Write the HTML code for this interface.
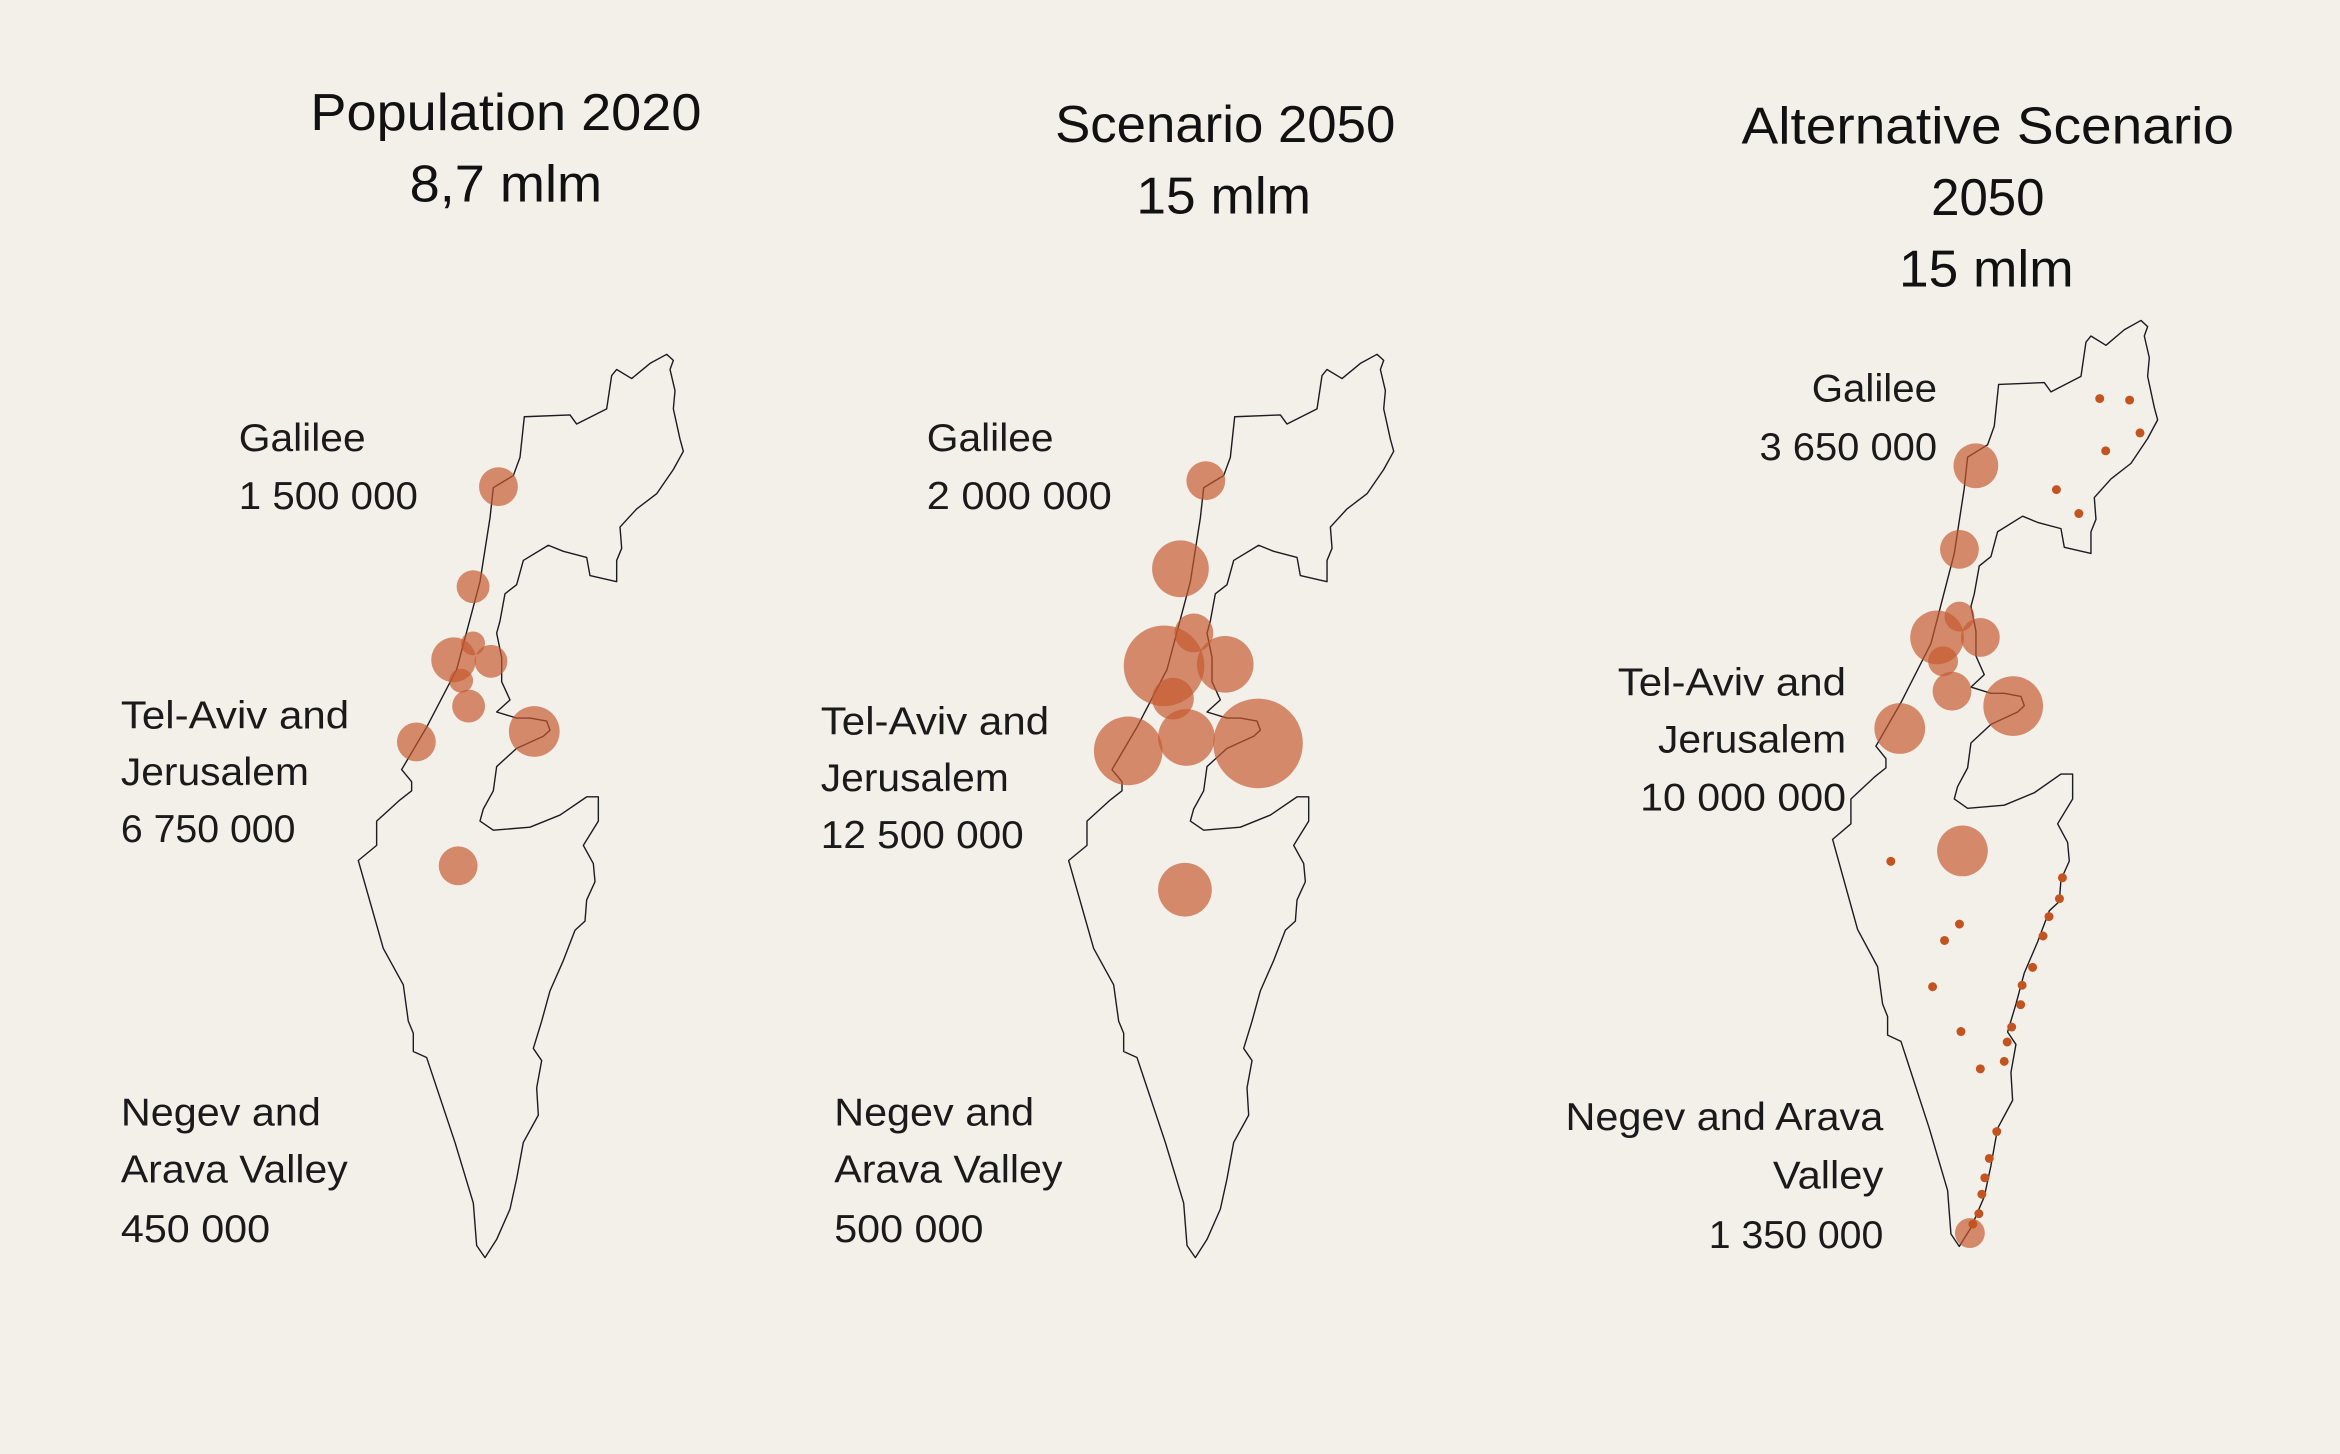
<!DOCTYPE html>
<html><head><meta charset="utf-8"><style>
html,body{margin:0;padding:0;background:#f3efe9;}
svg{display:block}
text{font-family:"Liberation Sans",sans-serif;fill:#111;}
.t{font-size:35px}
.l{font-size:26px;fill:#1a1a1a}
.c{fill:rgba(196,88,46,0.68)}
.d{fill:#c4541f}
</style></head><body>
<svg width="2340" height="1454" viewBox="0 0 1568 974" preserveAspectRatio="none" xmlns="http://www.w3.org/2000/svg">
<rect width="1568" height="974" fill="#f3efe9"/>
<defs>
<path id="isr" fill="none" stroke="#1b1b22" stroke-width="1.4" vector-effect="non-scaling-stroke" stroke-linejoin="round" d="M583,143 L720,140 L740,155 L830,130 L845,75 L860,65 L905,80 L960,55 L1010,40 L1030,50 L1020,65 L1035,100 L1030,130 L1050,180 L1060,200 L1030,230 L980,270 L920,295 L870,325 L875,360 L860,380 L860,415 L780,405 L770,375 L700,365 L655,355 L580,380 L560,420 L525,435 L510,480 L500,500 L515,540 L515,580 L540,610 L500,630 L560,640 L600,640 L650,645 L660,660 L640,670 L560,690 L500,720 L490,760 L460,790 L450,810 L490,825 L600,820 L690,800 L770,770 L805,770 L805,810 L760,850 L790,880 L795,910 L770,940 L765,975 L735,990 L700,1040 L660,1090 L635,1140 L610,1185 L635,1205 L620,1250 L625,1295 L580,1340 L560,1400 L540,1450 L500,1500 L465,1530 L440,1510 L430,1440 L375,1340 L290,1200 L250,1190 L250,1160 L235,1140 L220,1080 L160,1020 L85,875 L140,850 L140,810 L210,775 L245,760 L245,745 L215,725 L290,655 L380,560 L450,415 L480,310 L490,260 L520,250 L550,240 L570,210 Z"/>
</defs>
<use href="#isr" transform="translate(221.1,221.1) scale(0.2234,0.4061)"/>
<use href="#isr" transform="translate(697.1,221.1) scale(0.2234,0.4061)"/>
<use href="#isr" transform="translate(1209,198) scale(0.2234,0.4163)"/>

<!-- titles -->
<text class="t" x="339" y="87" text-anchor="middle" textLength="262" lengthAdjust="spacingAndGlyphs">Population 2020</text>
<text class="t" x="339" y="135" text-anchor="middle" textLength="129" lengthAdjust="spacingAndGlyphs">8,7 mlm</text>
<text class="t" x="821" y="95" text-anchor="middle" textLength="228" lengthAdjust="spacingAndGlyphs">Scenario 2050</text>
<text class="t" x="820" y="143" text-anchor="middle" textLength="117" lengthAdjust="spacingAndGlyphs">15 mlm</text>
<text class="t" x="1332" y="96" text-anchor="middle" textLength="330" lengthAdjust="spacingAndGlyphs">Alternative Scenario</text>
<text class="t" x="1332" y="144" text-anchor="middle" textLength="76" lengthAdjust="spacingAndGlyphs">2050</text>
<text class="t" x="1331" y="192" text-anchor="middle" textLength="117" lengthAdjust="spacingAndGlyphs">15 mlm</text>

<!-- map1 labels -->
<text class="l" x="160" y="302" textLength="85" lengthAdjust="spacingAndGlyphs">Galilee</text>
<text class="l" x="160" y="341" textLength="120" lengthAdjust="spacingAndGlyphs">1 500 000</text>
<text class="l" x="81" y="488" textLength="153" lengthAdjust="spacingAndGlyphs">Tel-Aviv and</text>
<text class="l" x="81" y="526" textLength="126" lengthAdjust="spacingAndGlyphs">Jerusalem</text>
<text class="l" x="81" y="564" textLength="117" lengthAdjust="spacingAndGlyphs">6 750 000</text>
<text class="l" x="81" y="754" textLength="134" lengthAdjust="spacingAndGlyphs">Negev and</text>
<text class="l" x="81" y="792" textLength="152" lengthAdjust="spacingAndGlyphs">Arava Valley</text>
<text class="l" x="81" y="832" textLength="100" lengthAdjust="spacingAndGlyphs">450 000</text>
<!-- map2 labels -->
<text class="l" x="621" y="302" textLength="85" lengthAdjust="spacingAndGlyphs">Galilee</text>
<text class="l" x="621" y="341" textLength="124" lengthAdjust="spacingAndGlyphs">2 000 000</text>
<text class="l" x="550" y="492" textLength="153" lengthAdjust="spacingAndGlyphs">Tel-Aviv and</text>
<text class="l" x="550" y="530" textLength="126" lengthAdjust="spacingAndGlyphs">Jerusalem</text>
<text class="l" x="550" y="568" textLength="136" lengthAdjust="spacingAndGlyphs">12 500 000</text>
<text class="l" x="559" y="754" textLength="134" lengthAdjust="spacingAndGlyphs">Negev and</text>
<text class="l" x="559" y="792" textLength="153" lengthAdjust="spacingAndGlyphs">Arava Valley</text>
<text class="l" x="559" y="832" textLength="100" lengthAdjust="spacingAndGlyphs">500 000</text>
<!-- map3 labels -->
<text class="l" x="1298" y="269" text-anchor="end" textLength="84" lengthAdjust="spacingAndGlyphs">Galilee</text>
<text class="l" x="1298" y="308" text-anchor="end" textLength="119" lengthAdjust="spacingAndGlyphs">3 650 000</text>
<text class="l" x="1237" y="466" text-anchor="end" textLength="153" lengthAdjust="spacingAndGlyphs">Tel-Aviv and</text>
<text class="l" x="1237" y="504" text-anchor="end" textLength="126" lengthAdjust="spacingAndGlyphs">Jerusalem</text>
<text class="l" x="1237" y="543" text-anchor="end" textLength="138" lengthAdjust="spacingAndGlyphs">10 000 000</text>
<text class="l" x="1262" y="757" text-anchor="end" textLength="213" lengthAdjust="spacingAndGlyphs">Negev and Arava</text>
<text class="l" x="1262" y="796" text-anchor="end" textLength="74" lengthAdjust="spacingAndGlyphs">Valley</text>
<text class="l" x="1262" y="836" text-anchor="end" textLength="117" lengthAdjust="spacingAndGlyphs">1 350 000</text>

<!-- map1 circles -->
<g class="c">
<circle cx="334" cy="326" r="13"/><circle cx="317" cy="393" r="11"/><circle cx="304" cy="442" r="15"/>
<circle cx="317" cy="431" r="8"/><circle cx="329" cy="443" r="11"/><circle cx="309" cy="456" r="8"/>
<circle cx="314" cy="473" r="11"/><circle cx="279" cy="497" r="13"/><circle cx="358" cy="490" r="17"/>
<circle cx="307" cy="580" r="13"/>
</g>
<!-- map2 circles -->
<g class="c">
<circle cx="808" cy="322" r="13"/><circle cx="791" cy="381" r="19"/><circle cx="800" cy="424" r="13"/>
<circle cx="780" cy="446" r="27"/><circle cx="821" cy="445" r="19"/><circle cx="786" cy="468" r="14"/>
<circle cx="756" cy="503" r="23"/><circle cx="795" cy="494" r="19"/><circle cx="843" cy="498" r="30"/>
<circle cx="794" cy="596" r="18"/>
</g>
<!-- map3 circles -->
<g class="c">
<circle cx="1324" cy="312" r="15"/><circle cx="1313" cy="368" r="13"/><circle cx="1313" cy="413" r="10"/>
<circle cx="1298" cy="427" r="18"/><circle cx="1327" cy="427" r="13"/><circle cx="1302" cy="443" r="10"/>
<circle cx="1308" cy="463" r="13"/><circle cx="1273" cy="488" r="17"/><circle cx="1349" cy="473" r="20"/>
<circle cx="1315" cy="570" r="17"/><circle cx="1320" cy="826" r="10"/>
</g>
<g class="d">
<circle cx="1407" cy="267" r="3"/><circle cx="1427" cy="268" r="3"/><circle cx="1434" cy="290" r="3"/>
<circle cx="1411" cy="302" r="3"/><circle cx="1378" cy="328" r="3"/><circle cx="1393" cy="344" r="3"/>
<circle cx="1267" cy="577" r="3"/><circle cx="1313" cy="619" r="3"/><circle cx="1303" cy="630" r="3"/>
<circle cx="1382" cy="588" r="3"/><circle cx="1380" cy="602" r="3"/><circle cx="1373" cy="614" r="3"/>
<circle cx="1369" cy="627" r="3"/><circle cx="1362" cy="648" r="3"/><circle cx="1355" cy="660" r="3"/>
<circle cx="1354" cy="673" r="3"/><circle cx="1348" cy="688" r="3"/><circle cx="1345" cy="698" r="3"/>
<circle cx="1343" cy="711" r="3"/><circle cx="1327" cy="716" r="3"/><circle cx="1314" cy="691" r="3"/>
<circle cx="1295" cy="661" r="3"/><circle cx="1338" cy="758" r="3"/><circle cx="1333" cy="776" r="3"/>
<circle cx="1330" cy="789" r="3"/><circle cx="1328" cy="800" r="3"/><circle cx="1326" cy="813" r="3"/>
<circle cx="1322" cy="820" r="3"/>
</g>
</svg>
</body></html>
